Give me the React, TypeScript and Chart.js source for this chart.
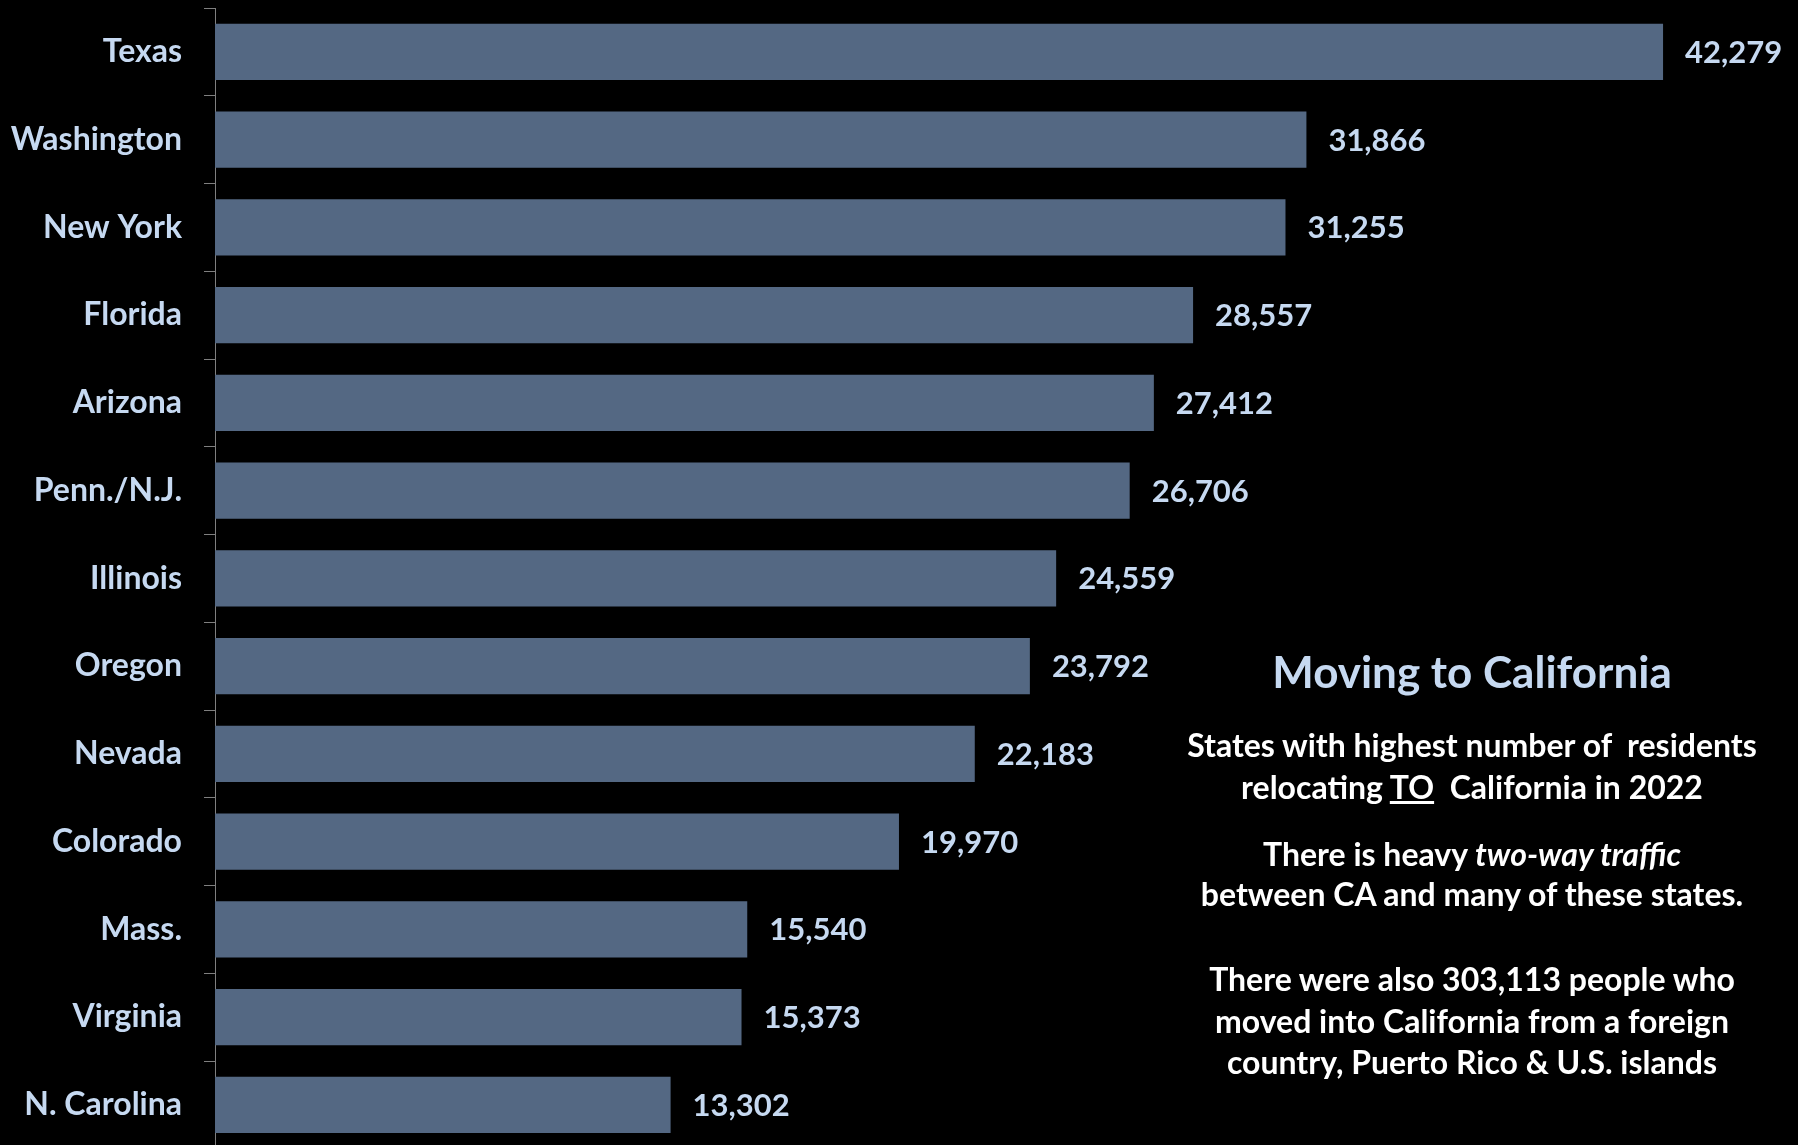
import React, { useEffect, useRef } from "react";
import { Chart, registerables } from "chart.js";

Chart.register(...registerables);

const categories = [
  "Texas",
  "Washington",
  "New York",
  "Florida",
  "Arizona",
  "Penn./N.J.",
  "Illinois",
  "Oregon",
  "Nevada",
  "Colorado",
  "Mass.",
  "Virginia",
  "N. Carolina",
];
const movers = [42279, 31866, 31255, 28557, 27412, 26706, 24559, 23792, 22183, 19970, 15540, 15373, 13302];
const xMax = 46000;

const FONT = "Lato, 'Noto Sans', sans-serif";
const LABEL_COLOR = "#C6D9F1";
const BAR_COLOR = "#546883";

const valueLabels = {
  id: "valueLabels",
  afterDatasetsDraw(chart: any) {
    const ctx = chart.ctx;
    const meta = chart.getDatasetMeta(0);
    ctx.save();
    ctx.font = `bold 31px ${FONT}`;
    ctx.fillStyle = LABEL_COLOR;
    ctx.textAlign = "left";
    ctx.textBaseline = "middle";
    meta.data.forEach((el: any, i: number) => {
      const v = chart.data.datasets[0].data[i] as number;
      ctx.fillText(v.toLocaleString("en-US"), el.x + 22, el.y + 1);
    });
    ctx.restore();
  },
};

export default function App() {
  const ref = useRef<HTMLCanvasElement | null>(null);

  useEffect(() => {
    document.body.style.margin = "0";
    document.body.style.background = "#000";
    const canvas = ref.current;
    if (!canvas) return;
    const chart = new Chart(canvas, {
      type: "bar",
      data: {
        labels: categories,
        datasets: [
          {
            data: movers,
            backgroundColor: BAR_COLOR,
            borderWidth: 0,
            barPercentage: 0.8,
            categoryPercentage: 0.8,
          },
        ],
      },
      options: {
        indexAxis: "y",
        responsive: false,
        animation: false,
        devicePixelRatio: 1,
        layout: { padding: { left: 0, right: 7.5, top: 8, bottom: 1.25 } },
        plugins: {
          legend: { display: false },
          tooltip: { enabled: false },
          title: { display: false },
        },
        scales: {
          x: {
            display: false,
            min: 0,
            max: xMax,
          },
          y: {
            afterFit: (scale: any) => {
              scale.width = 215;
              scale.paddingTop = 0;
              scale.paddingBottom = 0;
            },
            grid: {
              display: true,
              drawOnChartArea: false,
              drawTicks: true,
              tickLength: 11,
              color: "#7f7f7f",
              lineWidth: 1,
              offset: true,
            },
            border: { display: true, color: "#7f7f7f", width: 1 },
            ticks: {
              color: LABEL_COLOR,
              padding: 22,
              font: { family: FONT, weight: "bold", size: 32 },
            },
          },
        },
      },
      plugins: [valueLabels],
    });
    return () => chart.destroy();
  }, []);

  const lineStyle = (top: number, size: number, color: string, h: number): React.CSSProperties => ({
    position: "absolute",
    left: 1472 - 400,
    width: 800,
    top: top - h / 2,
    height: h,
    lineHeight: `${h}px`,
    textAlign: "center",
    whiteSpace: "pre",
    fontFamily: FONT,
    fontWeight: "bold",
    fontSize: size,
    color,
  });

  const BODY = "#FFFFFF";
  const bs = 32;
  return (
    <div
      style={{
        position: "fixed",
        left: 0,
        top: 0,
        width: 1798,
        height: 1145,
        overflow: "hidden",
        background: "#000",
      }}
    >
      <canvas
        ref={ref}
        width={1798}
        height={1150}
        style={{ position: "absolute", left: 0, top: 0, width: 1798, height: 1150 }}
      />
      <div style={lineStyle(671, 44, LABEL_COLOR, 54)}>Moving to California</div>
      <div style={lineStyle(745, bs, BODY, 42)}>States with highest number of  residents</div>
      <div style={lineStyle(787, bs, BODY, 42)}>
        relocating <u>TO</u>  California in 2022
      </div>
      <div style={lineStyle(854, bs, BODY, 42)}>
        There is heavy <i>two-way traffic</i>
      </div>
      <div style={lineStyle(894, bs, BODY, 42)}>between CA and many of these states.</div>
      <div style={lineStyle(979, bs, BODY, 42)}>There were also 303,113 people who</div>
      <div style={lineStyle(1021, bs, BODY, 42)}>moved into California from a foreign</div>
      <div style={lineStyle(1062, bs, BODY, 42)}>country, Puerto Rico &amp; U.S. islands</div>
    </div>
  );
}
